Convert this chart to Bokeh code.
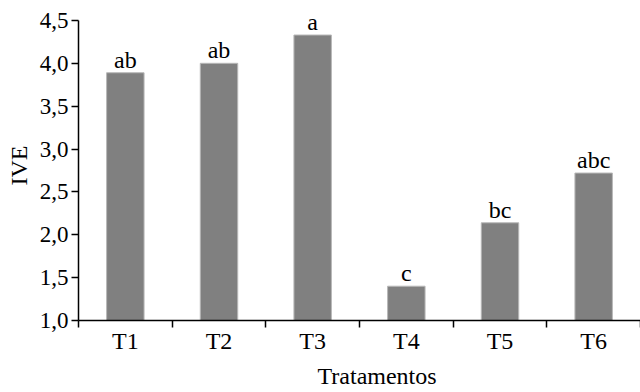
import numpy as np
from bokeh.plotting import figure
from bokeh.models import ColumnDataSource, FixedTicker, Title, Range1d
from bokeh.core.properties import value
from bokeh.embed import file_html
from bokeh.resources import INLINE

categories = ["T1", "T2", "T3", "T4", "T5", "T6"]
ive = [3.89, 4.00, 4.33, 1.40, 2.14, 2.72]
letters = ["ab", "ab", "a", "c", "bc", "abc"]
y_ticks = [1.0, 1.5, 2.0, 2.5, 3.0, 3.5, 4.0, 4.5]
y_tick_labels = ["1,0", "1,5", "2,0", "2,5", "3,0", "3,5", "4,0", "4,5"]
x_title = "Tratamentos"
y_title = "IVE"

FONT = "Liberation Serif"
FS = "24px"

xpos = [i + 0.5 for i in range(len(categories))]
src = ColumnDataSource(dict(x=xpos, top=ive, lab=letters))

p = figure(width=640, height=392, output_backend="svg", toolbar_location=None,
           x_range=Range1d(0, len(categories)), y_range=Range1d(1.0, 4.616),
           min_border_left=78, min_border_right=0, min_border_top=10, min_border_bottom=71)
p.outline_line_color = None
p.xgrid.grid_line_color = None
p.ygrid.grid_line_color = None
p.background_fill_color = "white"
p.border_fill_color = "white"

p.vbar(x="x", top="top", bottom=1.0, width=0.4, source=src,
       fill_color="#808080", line_color="#b8b8b8", line_width=1)
p.text(x="x", y="top", text="lab", source=src, text_align="center",
       text_baseline="alphabetic", y_offset=-13,
       text_font=value(FONT), text_font_size=FS, text_color="black")

# x axis
xa = p.xaxis[0]
xa.ticker = FixedTicker(ticks=xpos, minor_ticks=list(range(len(categories) + 1)))
xa.major_label_overrides = {x: c for x, c in zip(xpos, categories)}
xa.major_tick_line_color = None
xa.major_tick_out = 7
xa.major_tick_in = 0
xa.minor_tick_out = 7
xa.minor_tick_in = 0
xa.minor_tick_line_color = "black"
xa.minor_tick_line_width = 1.5
xa.axis_line_color = "black"
xa.axis_line_width = 1.5
xa.major_label_standoff = 0
xa.major_label_text_font = FONT
xa.major_label_text_font_size = FS
xa.major_label_text_color = "black"

# y axis
ya = p.yaxis[0]
ya.ticker = FixedTicker(ticks=y_ticks)
ya.major_label_overrides = {t: l for t, l in zip(y_ticks, y_tick_labels)}
ya.bounds = (1.0, 4.5)
ya.minor_tick_line_color = None
ya.major_tick_out = 7
ya.major_tick_in = 0
ya.major_tick_line_color = "black"
ya.major_tick_line_width = 1.5
ya.axis_line_color = "black"
ya.axis_line_width = 1.5
ya.major_label_standoff = 3
ya.major_label_text_font = FONT
ya.major_label_text_font_size = "23px"
ya.major_label_text_color = "black"
ya.axis_label = y_title
ya.axis_label_text_font = FONT
ya.axis_label_text_font_size = FS
ya.axis_label_text_font_style = "normal"
ya.axis_label_text_color = "black"
ya.axis_label_standoff = 5

t = Title(text=x_title, align="left", offset=239, standoff=8,
          text_font=FONT, text_font_size=FS, text_font_style="normal",
          text_color="black")
p.add_layout(t, "below")

open("out.html", "w").write(file_html(p, INLINE))
